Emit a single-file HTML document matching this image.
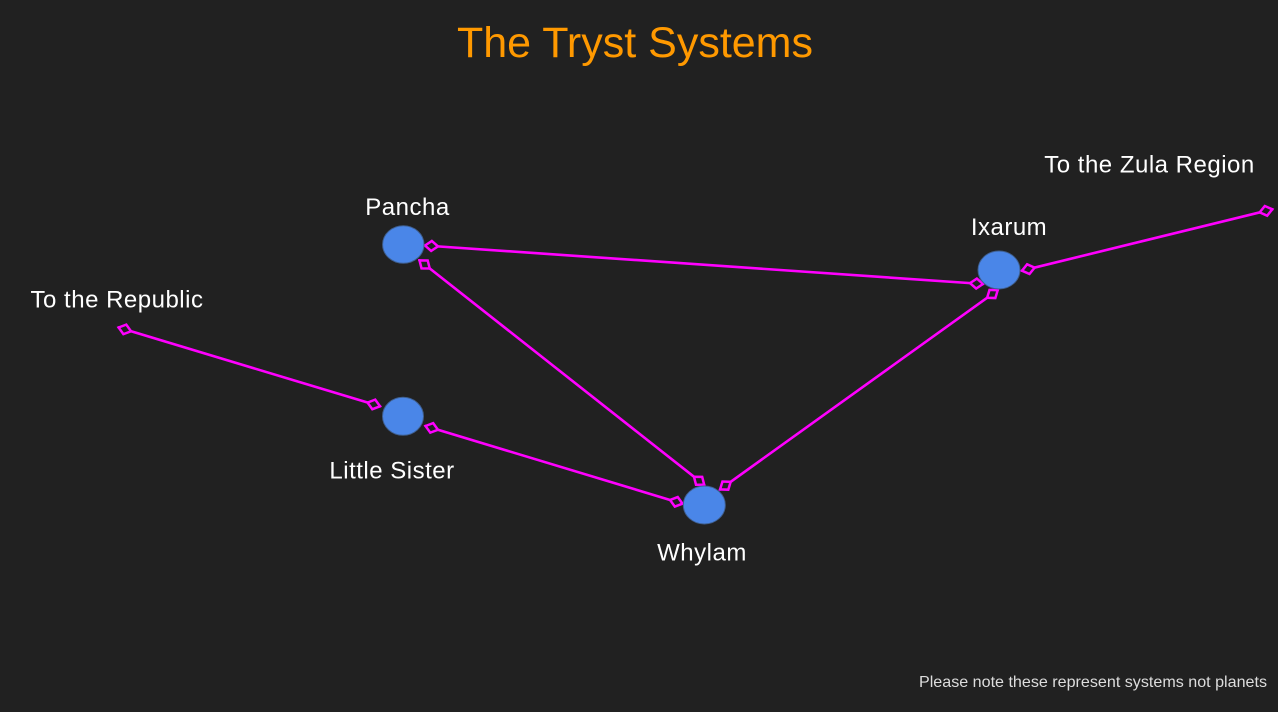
<!DOCTYPE html>
<html>
<head>
<meta charset="utf-8">
<style>
  html, body { margin:0; padding:0; background:#212121; }
  body { width:1278px; height:712px; overflow:hidden; }
  svg { display:block; }
  text { font-family: "Liberation Sans", Arial, sans-serif; }
</style>
</head>
<body>
<svg width="1278" height="712" viewBox="0 0 1278 712" xmlns="http://www.w3.org/2000/svg">
  <rect x="0" y="0" width="1278" height="712" fill="#212121"/>

  <!-- Title -->
  <text x="635" y="57" text-anchor="middle" font-size="43" fill="#FF9900">The Tryst Systems</text>

  <!-- Edges -->
  <g stroke="#FF00FF" stroke-width="2.6" fill="none" stroke-linecap="round">
    <line x1="425" y1="245.5" x2="983" y2="284"/>
    <line x1="419.5" y1="260.4" x2="704.2" y2="484.8"/>
    <line x1="997.7" y1="290.2" x2="720.1" y2="489.4"/>
    <line x1="1022" y1="270.7" x2="1272.3" y2="209.3"/>
    <line x1="118.6" y1="327.5" x2="380" y2="406.3"/>
    <line x1="425.5" y1="426" x2="682.5" y2="503.7"/>
  </g>

  <!-- Diamonds (open) -->
  <g stroke="#FF00FF" stroke-width="2.5" fill="#212121" stroke-linejoin="miter">
    <polygon points="0,0 6.5,-5 13,0 6.5,5" transform="translate(425,245.5) rotate(3.95)"/>
    <polygon points="0,0 6.5,-5 13,0 6.5,5" transform="translate(983,284) rotate(183.95)"/>
    <polygon points="0,0 6.5,-5 13,0 6.5,5" transform="translate(419.5,260.4) rotate(38.25)"/>
    <polygon points="0,0 6.5,-5 13,0 6.5,5" transform="translate(704.2,484.8) rotate(218.25)"/>
    <polygon points="0,0 6.5,-5 13,0 6.5,5" transform="translate(997.7,290.2) rotate(144.3)"/>
    <polygon points="0,0 6.5,-5 13,0 6.5,5" transform="translate(720.1,489.4) rotate(-35.7)"/>
    <polygon points="0,0 6.5,-5 13,0 6.5,5" transform="translate(1022,270.7) rotate(-13.8)"/>
    <polygon points="0,0 6.5,-5 13,0 6.5,5" transform="translate(1272.3,209.3) rotate(166.2)"/>
    <polygon points="0,0 6.5,-5 13,0 6.5,5" transform="translate(118.6,327.5) rotate(16.8)"/>
    <polygon points="0,0 6.5,-5 13,0 6.5,5" transform="translate(380,406.3) rotate(196.8)"/>
    <polygon points="0,0 6.5,-5 13,0 6.5,5" transform="translate(425.5,426) rotate(16.85)"/>
    <polygon points="0,0 6.5,-5 13,0 6.5,5" transform="translate(682.5,503.7) rotate(196.85)"/>
  </g>

  <!-- Nodes -->
  <g fill="#4A86E8" stroke="#3f5f8f" stroke-width="1">
    <ellipse cx="403.3" cy="244.5" rx="20.7" ry="18.8"/>
    <ellipse cx="999" cy="270" rx="21" ry="19"/>
    <ellipse cx="403" cy="416.3" rx="20.5" ry="19"/>
    <ellipse cx="704.3" cy="505" rx="21" ry="19"/>
  </g>

  <!-- Labels -->
  <g fill="#FFFFFF" font-size="24" letter-spacing="0.5" text-anchor="middle">
    <text x="407.5" y="215">Pancha</text>
    <text x="1009" y="235">Ixarum</text>
    <text x="392" y="478.3">Little Sister</text>
    <text x="702" y="560.7">Whylam</text>
    <text x="117" y="307.7">To the Republic</text>
    <text x="1149.5" y="172.7">To the Zula Region</text>
  </g>

  <!-- Footer note -->
  <text x="1267" y="687" text-anchor="end" font-size="16.1" fill="#DDDDDD">Please note these represent systems not planets</text>
</svg>
</body>
</html>
